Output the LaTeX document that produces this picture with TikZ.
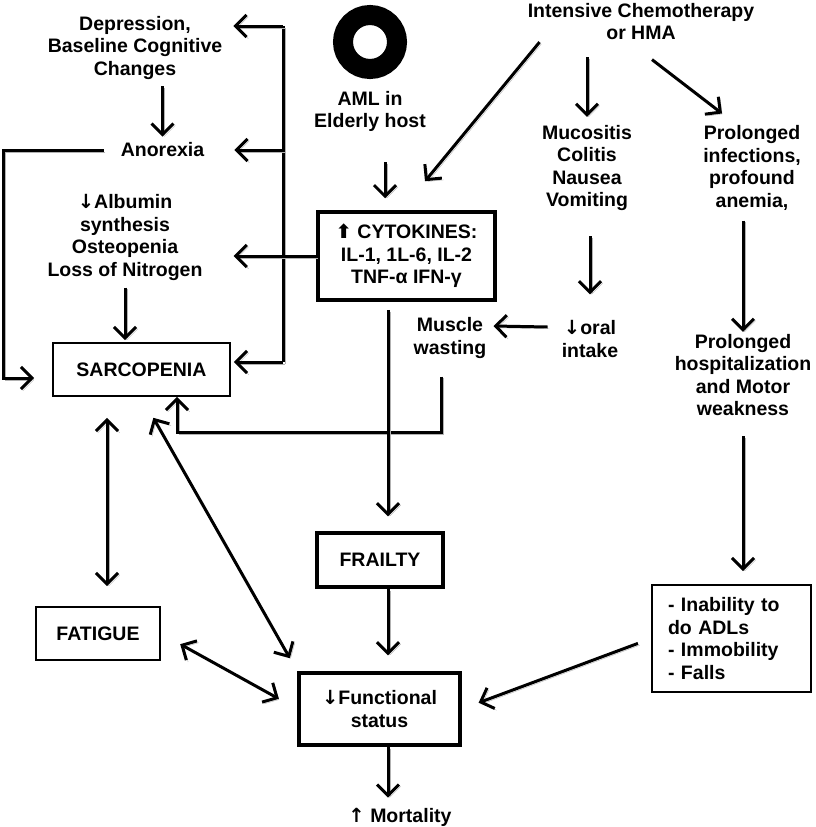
\documentclass[tikz,border=0pt]{standalone}
\usepackage{fontspec}
\setmainfont{Liberation Sans}
\newfontfamily\symfont{DejaVu Sans}
\usepackage{tikz}
\usetikzlibrary{arrows.meta,positioning,calc}
\newcommand{\dn}{{\symfont\bfseries ↓}}
\newcommand{\up}{{\symfont\bfseries ↑}}
\tikzstyle{txt} = [font=\bfseries\fontsize{19.5}{22.5}\selectfont, align=center, inner sep=2pt]
\tikzstyle{thinbox} = [txt, draw, line width=1.9pt, inner sep=0pt]
\tikzstyle{thickbox} = [txt, draw, line width=3.5pt, inner sep=0pt]
\tikzstyle{line} = [line width=3pt, preaction={draw=black!30, transform canvas={shift={(1.8pt,-1.8pt)}}}]
\tikzstyle{arrow} = [line, -{Straight Barb[length=11pt,width=22pt]}]
\tikzstyle{darrow} = [line, {Straight Barb[length=11pt,width=22pt]}-{Straight Barb[length=11pt,width=22pt]}]

\begin{document}
\begin{tikzpicture}[x=1pt, y=-1pt]
    \useasboundingbox (0,0) rectangle (815,827);

    % Left column
    \node[txt] (depr) at (135,47.5) {Depression,\\Baseline Cognitive\\Changes};
    \node[txt] (anorexia) at (162.5,150) {Anorexia};
    \node[txt] (albumin) at (125,237.5) {\dn Albumin\\synthesis\\Osteopenia\\Loss of Nitrogen};
    \node[thinbox, minimum width=177pt, minimum height=53pt] (sarco) at (141.5,369.5) {SARCOPENIA};
    \node[thinbox, minimum width=124pt, minimum height=53pt] (fatigue) at (98,633.5) {FATIGUE};

    % AML and cytokines
    \node[circle, draw, line width=20pt, minimum size=54pt, inner sep=0pt] (amlring) at (370,42) {};
    \node[txt] (aml) at (370,111.5) {AML in\\Elderly host};
    \node[thickbox, minimum width=177pt, minimum height=88pt] (cyto) at (406.5,256) {{\symfont\bfseries ⬆} CYTOKINES:\\IL-1, 1L-6, IL-2\\TNF-α IFN-γ};
    \node[txt] (muscle) at (450,338) {Muscle\\wasting};
    \node[thickbox, minimum width=126pt, minimum height=54pt] (frailty) at (380,560) {FRAILTY};
    \node[thickbox, minimum width=161pt, minimum height=72pt] (func) at (379.5,709) {\dn Functional\\status};
    \node[txt] (mortality) at (400,817) {\up\ Mortality};

    % Treatment side
    \node[txt] (chemo) at (641,21.5) {Intensive Chemotherapy\\or HMA};
    \node[txt] (muco) at (587,168) {Mucositis\\Colitis\\Nausea\\Vomiting};
    \node[txt] (infect) at (752,168) {Prolonged\\infections,\\profound\\anemia,};
    \node[txt] (oral) at (590,339) {\dn oral\\intake};
    \node[txt] (hosp) at (743,375) {Prolonged\\hospitalization\\and Motor\\weakness};
    \node[thinbox, align=left, text width=127pt, inner xsep=16pt, minimum height=107pt] (adl) at (731.5,638.5) {- Inability to\\do ADLs\\- Immobility\\- Falls};

    % Helper points
    \coordinate (bustop) at (283,26);
    \coordinate (busanor) at (283,150);
    \coordinate (busbot) at (283,362);
    \coordinate (spine) at (388,0);
    \coordinate (loopturn) at (3,378);
    \coordinate (wastebend) at (441,432);

    % Bus to the left column
    \draw[line] (bustop) -- (busbot);
    \draw[arrow, shorten >=9pt] (bustop) -- (bustop -| depr.east);
    \draw[arrow, shorten >=28pt] (busanor) -- (busanor -| anorexia.east);
    \draw[arrow, shorten >=3pt] (busbot) -- (busbot -| sarco.east);
    \draw[arrow, shorten >=29pt] (cyto.west) -- (cyto.west -| albumin.east);

    % Left column flow
    \draw[arrow, shorten <=5pt, shorten >=4pt] (depr.south -| anorexia.north) -- (anorexia.north);
    \draw[arrow, shorten <=5pt, shorten >=2pt] (albumin.south) -- (albumin.south |- sarco.north);
    \draw[arrow, shorten <=15pt, shorten >=18pt] (anorexia.west) -| (loopturn) -- (loopturn -| sarco.west);

    % Into cytokines
    \draw[arrow, shorten <=28pt, shorten >=12pt] ([xshift=15pt]aml.south) -- ([xshift=15pt]aml.south |- cyto.north);
    \draw[arrow] ([xshift=14pt]chemo.south west) -- ([xshift=18.5pt,yshift=29pt]cyto.north);

    % Treatment effects
    \draw[arrow, shorten <=15pt, shorten >=6pt] (chemo.south -| muco.north) -- (muco.north);
    \draw[arrow] ([xshift=11pt,yshift=-17.5pt]chemo.south) -- ([xshift=-30pt,yshift=10pt]infect.north);
    \draw[arrow, shorten <=23pt, shorten >=24pt] (muco.south -| oral.north) -- (oral.north);
    \draw[arrow, shorten <=8pt] (infect.south -| hosp.north) -- (hosp.north);
    \draw[arrow, shorten <=18pt, shorten >=13pt] (hosp.south) -- (hosp.south |- adl.north);
    \draw[arrow] ([xshift=-12pt,yshift=12pt]oral.west) -- ([xshift=5pt,yshift=12pt]muscle.east);
    \draw[arrow, shorten <=16pt] (wastebend |- muscle.south) -- (wastebend) -| ([xshift=35.5pt]sarco.south);

    % Down the spine
    \draw[arrow, shorten <=8pt, shorten >=15pt] (cyto.south -| spine) -- (frailty.north -| spine);
    \draw[arrow, shorten >=16pt] (frailty.south -| spine) -- (func.north -| spine);
    \draw[arrow, shorten >=8pt] (func.south -| spine) -- (mortality.north -| spine);
    \draw[arrow, shorten <=14pt, shorten >=18pt] (adl.west) -- (func.east);

    % Two-way links
    \draw[darrow, shorten <=20pt, shorten >=21pt] ([xshift=9pt]fatigue.north) -- ([xshift=9pt]fatigue.north |- sarco.south);
    \draw[darrow, shorten <=24pt, shorten >=15pt] (sarco.south) -- (func.north west);
    \draw[darrow, shorten <=22pt, shorten >=21pt] (fatigue.east) -- (func.west);
\end{tikzpicture}
\end{document}
